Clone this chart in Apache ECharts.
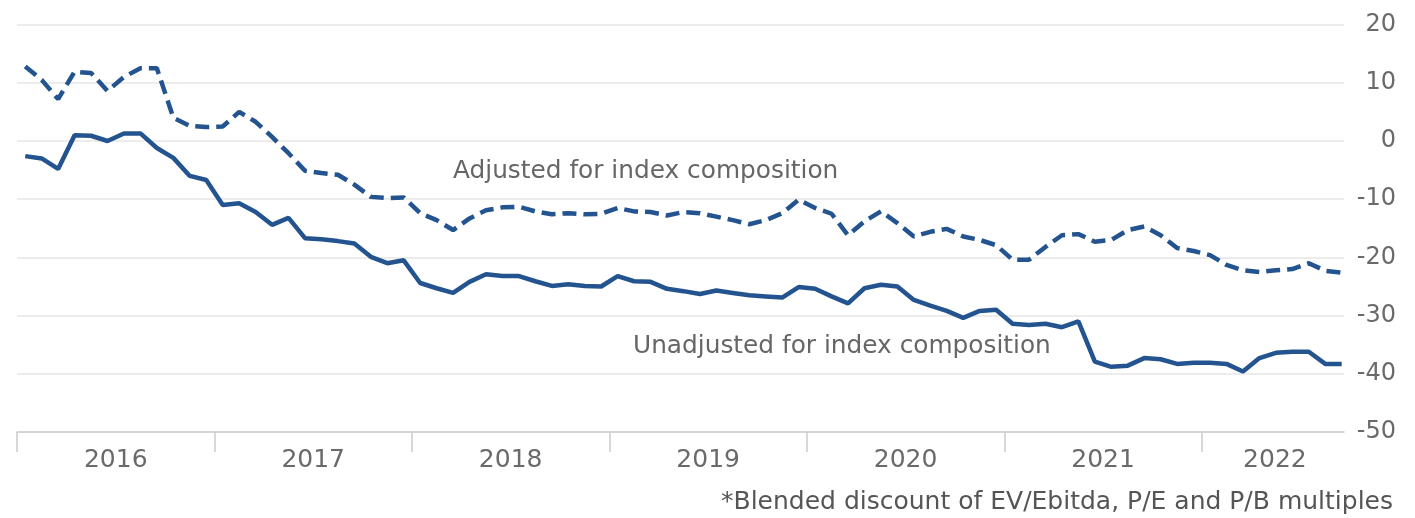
<!DOCTYPE html>
<html>
<head>
<meta charset="utf-8">
<script src="https://cdn.jsdelivr.net/npm/echarts@6/dist/echarts.min.js"></script>
<style>
html,body{margin:0;padding:0;background:#fff;}
#chart{width:1415px;height:518px;}
</style>
</head>
<body>
<div id="chart"></div>
<script>
// Months Jan 2016 .. Sep 2022 (81 monthly observations)
const startYear = 2016, monthCount = 81;
const months = [];
for (let i = 0; i < monthCount; i++) {
  const y = startYear + Math.floor(i / 12), m = (i % 12) + 1;
  months.push(y + '-' + (m < 10 ? '0' + m : m));
}

const adjusted = [
  12.8, 10.5, 7.2, 11.9, 11.7, 8.6, 11.0, 12.5, 12.5, 4.0, 2.6, 2.4,
  2.5, 5.0, 3.3, 0.7, -2.1, -5.1, -5.5, -5.8, -7.5, -9.6, -9.8, -9.7,
  -12.4, -13.6, -15.3, -13.3, -11.9, -11.4, -11.3, -12.1, -12.6, -12.4, -12.6, -12.5,
  -11.5, -12.1, -12.2, -12.8, -12.2, -12.4, -13.0, -13.6, -14.3, -13.6, -12.4, -10.1,
  -11.5, -12.5, -16.2, -13.8, -12.1, -14.1, -16.4, -15.6, -15.1, -16.4, -17.0, -17.9,
  -20.4, -20.4, -18.2, -16.2, -16.0, -17.3, -17.0, -15.3, -14.7, -16.2, -18.4, -18.9,
  -19.6, -21.3, -22.2, -22.5, -22.2, -22.0, -21.0, -22.3, -22.6
];
const unadjusted = [
  -2.6, -3.0, -4.8, 1.0, 0.9, 0.0, 1.3, 1.3, -1.2, -2.9, -6.0, -6.7,
  -11.0, -10.7, -12.2, -14.4, -13.2, -16.7, -16.9, -17.2, -17.6, -19.9, -21.0, -20.5,
  -24.4, -25.3, -26.1, -24.2, -22.9, -23.2, -23.2, -24.1, -24.9, -24.6, -24.9, -25.0,
  -23.2, -24.1, -24.2, -25.4, -25.8, -26.3, -25.7, -26.1, -26.5, -26.7, -26.9, -25.1,
  -25.4, -26.7, -27.9, -25.3, -24.7, -25.0, -27.3, -28.3, -29.2, -30.4, -29.2, -29.0,
  -31.4, -31.6, -31.4, -32.0, -31.0, -37.9, -38.8, -38.6, -37.3, -37.5, -38.3, -38.1,
  -38.1, -38.3, -39.6, -37.3, -36.4, -36.2, -36.2, -38.3, -38.3
];
const yearTicks = [2016, 2017, 2018, 2019, 2020, 2021, 2022];
const yearLabelPos = [2016.5, 2017.5, 2018.5, 2019.5, 2020.5, 2021.5, 2022.37];
const yTicks = { min: -50, max: 20, interval: 10 };
const labelAdjusted = 'Adjusted for index composition';
const labelUnadjusted = 'Unadjusted for index composition';
const footnote = '*Blended discount of EV/Ebitda, P/E and P/B multiples';

// month string -> mid-month decimal year
function monthToX(s) {
  const p = s.split('-');
  return +p[0] + (+p[1] - 0.5) / 12;
}
const adjData = months.map((mo, i) => [monthToX(mo), adjusted[i]]);
const unadjData = months.map((mo, i) => [monthToX(mo), unadjusted[i]]);

const FONT = 'DejaVu Sans';
const lineColor = '#23548f';
const chart = echarts.init(document.getElementById('chart'), null, { renderer: 'canvas' });
chart.setOption({
  animation: false,
  backgroundColor: '#ffffff',
  grid: { left: 17, right: 71, top: 24.6, bottom: 86, containLabel: false, outerBoundsMode: 'none' },
  xAxis: {
    type: 'value',
    min: 2016,
    max: 2022.72,
    axisLine: { show: true, onZero: false, lineStyle: { color: '#cccccc', width: 1.5 } },
    axisTick: { show: true, length: 20, customValues: yearTicks, lineStyle: { color: '#cccccc', width: 1.5 } },
    axisLabel: {
      show: true,
      customValues: yearLabelPos,
      formatter: v => String(Math.floor(v)),
      color: '#6a6a6a',
      fontFamily: FONT,
      fontSize: 25,
      margin: 16
    },
    splitLine: { show: false }
  },
  yAxis: {
    type: 'value',
    position: 'right',
    min: yTicks.min,
    max: yTicks.max,
    interval: yTicks.interval,
    axisLine: { show: false },
    axisTick: { show: false },
    axisLabel: {
      color: '#6a6a6a',
      fontFamily: FONT,
      fontSize: 24,
      align: 'right',
      margin: 52
    },
    splitLine: { show: true, lineStyle: { color: '#e6e6e6', width: 1.5 } }
  },
  series: [
    {
      name: labelAdjusted,
      type: 'line',
      data: adjData,
      showSymbol: false,
      lineStyle: { color: lineColor, width: 4.5, type: [14, 7] },
      z: 3
    },
    {
      name: labelUnadjusted,
      type: 'line',
      data: unadjData,
      showSymbol: false,
      lineStyle: { color: lineColor, width: 4.5 },
      z: 3
    }
  ],
  graphic: [
    { type: 'text', left: 453, top: 159, style: { text: labelAdjusted, font: '24.8px "DejaVu Sans"', fill: '#666666' } },
    { type: 'text', left: 633, top: 334, style: { text: labelUnadjusted, font: '24.8px "DejaVu Sans"', fill: '#666666' } },
    { type: 'text', right: 22, top: 490, style: { text: footnote, font: '25px "DejaVu Sans"', fill: '#555555' } }
  ]
});
</script>
</body>
</html>
